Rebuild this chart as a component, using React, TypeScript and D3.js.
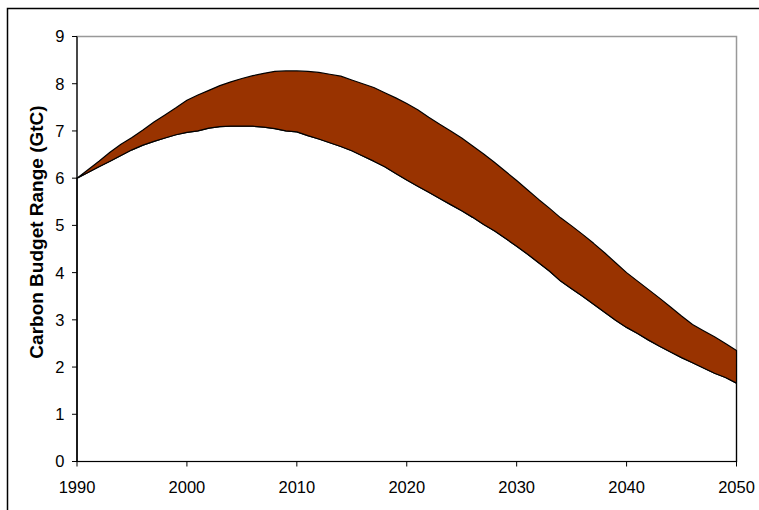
import React from "react";
import * as d3 from "d3";

const years: number[] = d3.range(1990, 2051);

const upperValues: number[] = [
  6.0, 6.18, 6.36, 6.55, 6.72, 6.86, 7.02, 7.19, 7.34, 7.49,
  7.65, 7.76, 7.86, 7.96, 8.04, 8.11, 8.17, 8.22, 8.26, 8.27,
  8.27, 8.26, 8.24, 8.2, 8.16, 8.08, 8.0, 7.92, 7.81, 7.7,
  7.58, 7.45, 7.29, 7.14, 7.0, 6.85, 6.68, 6.51, 6.33, 6.14,
  5.95, 5.75, 5.55, 5.36, 5.16, 4.99, 4.81, 4.62, 4.42, 4.21,
  4.0, 3.82, 3.64, 3.46, 3.27, 3.08, 2.9, 2.77, 2.64, 2.5,
  2.35,
];

const lowerValues: number[] = [
  6.0, 6.12, 6.24, 6.36, 6.48, 6.6, 6.7, 6.78, 6.85, 6.92,
  6.97, 7.0, 7.06, 7.09, 7.1, 7.1, 7.1, 7.08, 7.05, 7.0,
  6.98, 6.9, 6.83, 6.75, 6.67, 6.58, 6.47, 6.36, 6.24, 6.1,
  5.96, 5.83, 5.7, 5.57, 5.44, 5.31, 5.17, 5.02, 4.88, 4.72,
  4.56, 4.39, 4.21, 4.03, 3.82, 3.66, 3.5, 3.33, 3.16, 2.99,
  2.84, 2.71, 2.57, 2.44, 2.32, 2.2, 2.09, 1.98, 1.87, 1.78,
  1.66,
];

const yTicks: number[] = [0, 1, 2, 3, 4, 5, 6, 7, 8, 9];
const xTicks: number[] = [1990, 2000, 2010, 2020, 2030, 2040, 2050];
const yLabel = "Carbon Budget Range (GtC)";

const W = 759;
const H = 510;
const left = 77;
const right = 736.5;
const top = 36.5;
const bottom = 461.5;
const font = "'Liberation Sans', Arial, sans-serif";

export default function App() {
  const x = d3.scaleLinear().domain([1990, 2050]).range([left, right]);
  const y = d3.scaleLinear().domain([0, 9]).range([bottom, top]);

  const rows = years.map((yr, i) => ({ yr, lo: lowerValues[i], hi: upperValues[i] }));

  const bandArea = d3
    .area<{ yr: number; lo: number; hi: number }>()
    .x((d) => x(d.yr))
    .y0((d) => y(d.lo))
    .y1((d) => y(d.hi));

  const lowerArea = d3
    .area<{ yr: number; lo: number; hi: number }>()
    .x((d) => x(d.yr))
    .y0(() => y(0))
    .y1((d) => y(d.lo));

  return (
    <svg
      width={W}
      height={H}
      style={{ position: "absolute", left: 0, top: 0, background: "#fff" }}
    >
      <rect x={0} y={0} width={W} height={H} fill="#fff" />
      {/* outer chart border */}
      <rect x={7.5} y={8.5} width={W + 20} height={H + 20} fill="none" stroke="#000" strokeWidth={1.5} />
      {/* plot area border */}
      <rect x={left} y={top} width={right - left} height={bottom - top} fill="none" stroke="#999" strokeWidth={1.5} />

      {/* lower (transparent) area outline */}
      <path d={lowerArea(rows) || ""} fill="none" stroke="#000" strokeWidth={1.2} />
      {/* band */}
      <path d={bandArea(rows) || ""} fill="#993300" stroke="#000" strokeWidth={1.2} strokeLinejoin="round" />

      {/* axes */}
      <line x1={left} x2={left} y1={top} y2={bottom} stroke="#000" strokeWidth={1.2} />
      <line x1={left} x2={right} y1={bottom} y2={bottom} stroke="#000" strokeWidth={1.2} />

      {yTicks.map((t) => (
        <g key={"y" + t}>
          <line x1={left - 5} x2={left} y1={y(t)} y2={y(t)} stroke="#000" strokeWidth={1} />
          <text
            x={left - 12.5}
            y={y(t)}
            dy="0.36em"
            textAnchor="end"
            fontFamily={font}
            fontSize={16.5}
            fill="#000"
          >
            {t}
          </text>
        </g>
      ))}

      {xTicks.map((t) => (
        <g key={"x" + t}>
          <line x1={x(t)} x2={x(t)} y1={bottom} y2={bottom + 5} stroke="#000" strokeWidth={1} />
          <text
            x={x(t)}
            y={bottom + 31}
            textAnchor="middle"
            fontFamily={font}
            fontSize={16.5}
            fill="#000"
          >
            {t}
          </text>
        </g>
      ))}

      <text
        transform={`translate(43, 232) rotate(-90)`}
        textAnchor="middle"
        fontFamily={font}
        fontSize={19}
        fontWeight="bold"
        fill="#000"
      >
        {yLabel}
      </text>
    </svg>
  );
}
